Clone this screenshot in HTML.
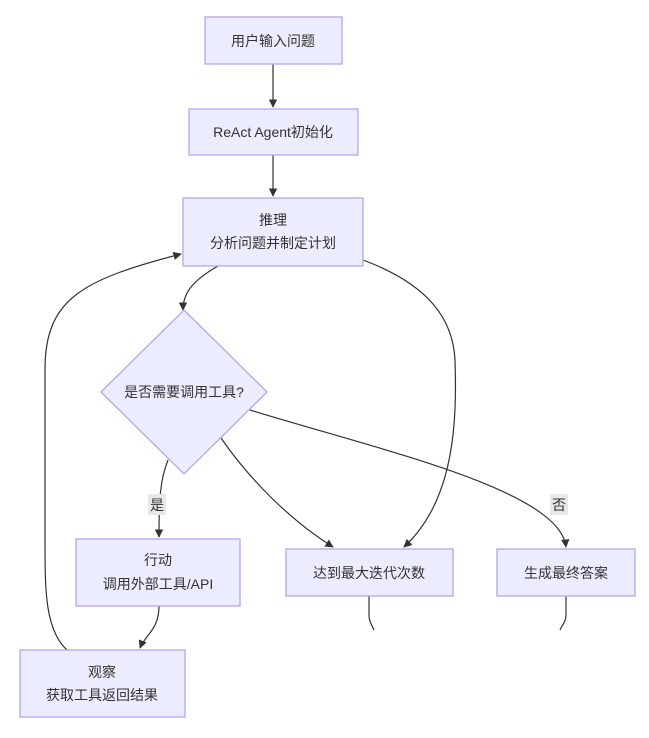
<!DOCTYPE html>
<html><head><meta charset="utf-8"><style>
body{margin:0;background:#fff;}
text{font-family:"Liberation Sans","Noto Sans CJK SC",sans-serif;font-size:14px;fill:#333;}
.n{fill:#ececff;stroke:#b5a6e8;stroke-width:1.3;}
.e{fill:none;stroke:#333;stroke-width:1.2;}
</style></head><body>
<svg width="649" height="733" viewBox="0 0 649 733" xmlns="http://www.w3.org/2000/svg">
<defs><marker id="a" viewBox="0 0 10 10" refX="9" refY="5" markerWidth="7" markerHeight="7" orient="auto"><path d="M0,0L10,5L0,10z" fill="#333"/></marker></defs>
<path class="e" d="M273,64 V107" marker-end="url(#a)"/>
<path class="e" d="M273,155 V196" marker-end="url(#a)"/>
<path class="e" d="M218,266 C190,282 183,295 183,310" marker-end="url(#a)"/>
<path class="e" d="M363,260 C430,285 453,320 455,360 C457,420 455,500 404,547" marker-end="url(#a)"/>
<path class="e" d="M168,460 C160,480 159,500 159,537" marker-end="url(#a)"/>
<path class="e" d="M221,438 C250,480 290,520 333,547" marker-end="url(#a)"/>
<path class="e" d="M250,410 C380,450 560,490 566,547" marker-end="url(#a)"/>
<path class="e" d="M159,606 C159,630 145,635 140,648" marker-end="url(#a)"/>
<path class="e" d="M67,650 C45,630 45,590 45,540 V370 C45,300 80,280 181,254" marker-end="url(#a)"/>
<path class="e" d="M369,596 V615 C369,622 372,625 374,630"/>
<path class="e" d="M566,596 V615 C566,622 562,625 560,630"/>
<rect class="n" x="205" y="17" width="137" height="47"/>
<text x="273" y="46" text-anchor="middle">用户输入问题</text>
<rect class="n" x="189" y="109" width="169" height="46"/>
<text x="273" y="137" text-anchor="middle">ReAct Agent初始化</text>
<rect class="n" x="183" y="198" width="180" height="68"/>
<text x="273" y="225" text-anchor="middle">推理</text>
<text x="273" y="248" text-anchor="middle">分析问题并制定计划</text>
<polygon class="n" points="184,310 267,392 184,474 101,392"/>
<text x="184" y="397" text-anchor="middle">是否需要调用工具?</text>
<rect x="148" y="494" width="18" height="21" fill="#e8e8e8"/>
<text x="157" y="510" text-anchor="middle">是</text>
<rect x="550" y="494" width="18" height="21" fill="#e8e8e8"/>
<text x="559" y="510" text-anchor="middle">否</text>
<rect class="n" x="76" y="539" width="164" height="67"/>
<text x="158" y="565" text-anchor="middle">行动</text>
<text x="158" y="589" text-anchor="middle">调用外部工具/API</text>
<rect class="n" x="286" y="549" width="167" height="47"/>
<text x="369" y="578" text-anchor="middle">达到最大迭代次数</text>
<rect class="n" x="497" y="549" width="138" height="47"/>
<text x="566" y="578" text-anchor="middle">生成最终答案</text>
<rect class="n" x="20" y="650" width="165" height="67"/>
<text x="102" y="677" text-anchor="middle">观察</text>
<text x="102" y="700" text-anchor="middle">获取工具返回结果</text>
</svg>
</body></html>
